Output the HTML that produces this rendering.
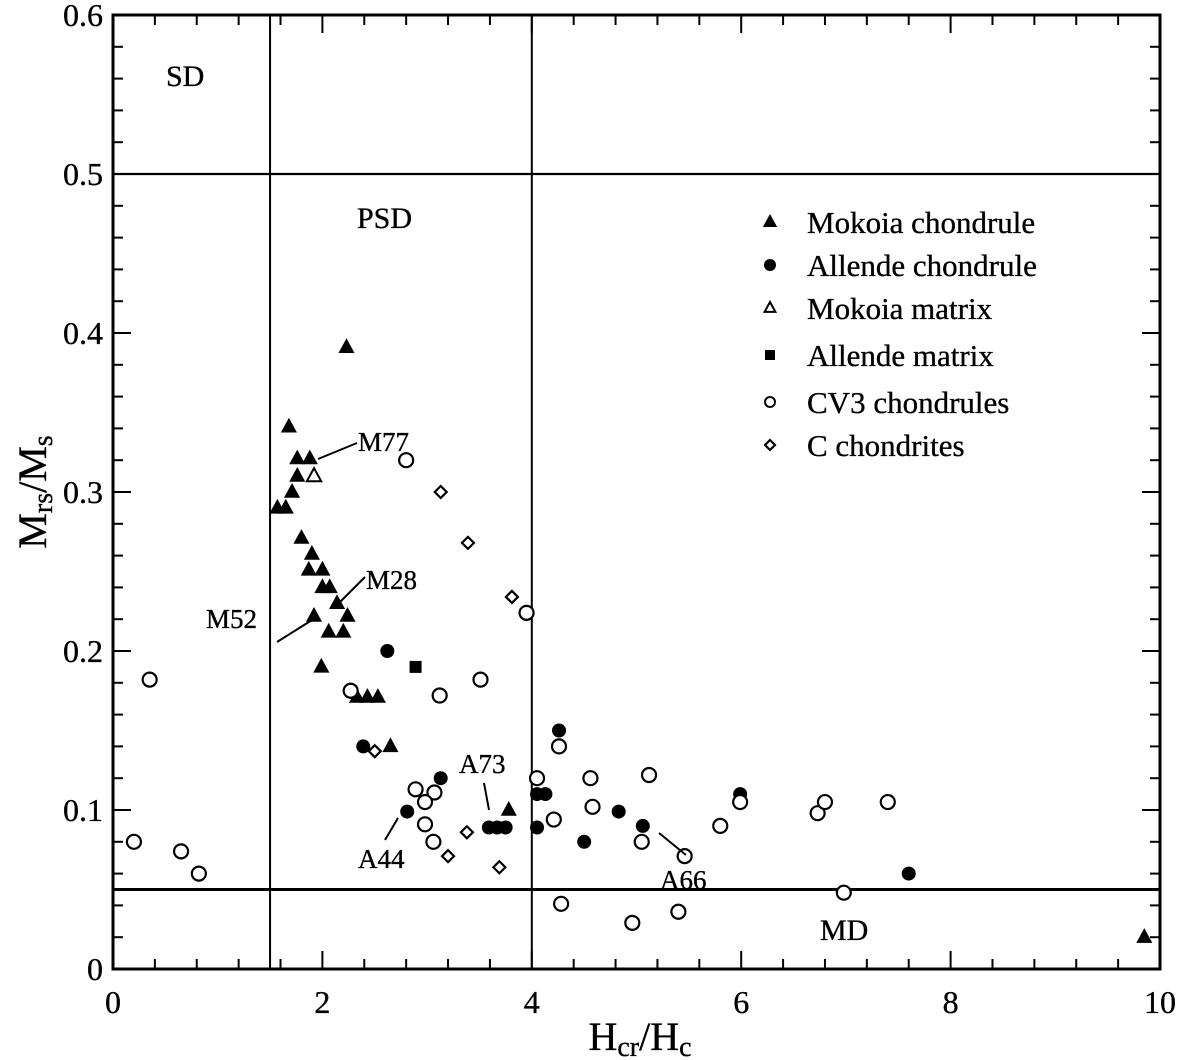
<!DOCTYPE html>
<html><head><meta charset="utf-8">
<style>
html,body{margin:0;padding:0;background:#fff;}
svg{display:block;font-family:"Liberation Serif",serif;}
text{stroke:#000;stroke-width:0.35;}
</style></head>
<body>
<svg id="chart" width="1181" height="1060" viewBox="0 0 1181 1060">
<g id="grid"></g>
<g id="marks"></g>
<g id="ann"></g>
</svg>
<script>
const xTicks=[0,2,4,6,8,10];
const yTicks=[0,0.1,0.2,0.3,0.4,0.5,0.6];
const mokoiaChondX=[2.23,1.68,1.76,1.88,1.76,1.71,1.57,1.65,1.8,1.9,1.87,2.0,2.0,2.07,2.14,1.92,2.24,2.06,2.2,1.99,2.33,2.43,2.53,2.65,3.78,9.85];
const mokoiaChondY=[0.391,0.341,0.321,0.321,0.310,0.300,0.290,0.290,0.271,0.261,0.251,0.251,0.240,0.240,0.230,0.222,0.222,0.212,0.212,0.190,0.171,0.171,0.171,0.140,0.100,0.020];
const allendeChondX=[2.62,2.39,3.13,2.81,3.59,3.67,3.75,4.05,4.13,4.05,4.26,4.83,4.5,5.06,5.99,7.6];
const allendeChondY=[0.200,0.140,0.120,0.099,0.089,0.089,0.089,0.110,0.110,0.089,0.150,0.099,0.080,0.090,0.110,0.060];
const mokoiaMatX=[1.92];
const mokoiaMatY=[0.310];
const allendeMatX=[2.89];
const allendeMatY=[0.190];
const cv3X=[0.2,0.35,0.65,0.82,2.8,3.95,3.51,3.12,2.27,2.89,3.07,2.98,2.98,3.06,4.05,4.26,4.21,4.56,4.58,5.12,5.05,5.46,5.8,4.28,4.96,5.4,5.99,6.73,6.8,7.4,6.98];
const cv3Y=[0.080,0.182,0.074,0.060,0.320,0.224,0.182,0.172,0.175,0.113,0.111,0.105,0.091,0.080,0.120,0.140,0.094,0.120,0.102,0.122,0.080,0.071,0.090,0.041,0.029,0.036,0.105,0.098,0.105,0.105,0.048];
const cChonX=[3.13,3.39,3.81,2.5,3.38,3.2,3.69];
const cChonY=[0.300,0.268,0.234,0.137,0.086,0.071,0.064];

const L=113,R=1160,T=15,B=969;
const sx=v=>L+(v-0)/(10-0)*(R-L);
const sy=v=>B-(v-0)/(0.6-0)*(B-T);
const NS='http://www.w3.org/2000/svg';
function mk(parent,tag,attrs){const e=document.createElementNS(NS,tag);for(const k in attrs)e.setAttribute(k,attrs[k]);parent.appendChild(e);return e;}
const grid=document.getElementById('grid'),marks=document.getElementById('marks'),ann=document.getElementById('ann');

let fr=mk(grid,'rect',{x:L,y:T,width:R-L,height:B-T,fill:'none',stroke:'#000','stroke-width':3});


for(let i=0;i<=25;i++){const v=i*0.4;const major=Math.abs(v/2-Math.round(v/2))<1e-6;const len=major?18:10;
 mk(grid,'line',{x1:sx(v),x2:sx(v),y1:B,y2:B-len,stroke:'#000','stroke-width':2});
 mk(grid,'line',{x1:sx(v),x2:sx(v),y1:T,y2:T+len,stroke:'#000','stroke-width':2});}
for(let i=0;i<=30;i++){const v=i*0.02;const major=i%5===0;const len=major?18:10;
 mk(grid,'line',{x1:L,x2:L+len,y1:sy(v),y2:sy(v),stroke:'#000','stroke-width':2});
 mk(grid,'line',{x1:R,x2:R-len,y1:sy(v),y2:sy(v),stroke:'#000','stroke-width':2});}
xTicks.forEach(v=>{const t=mk(grid,'text',{x:sx(v),y:1013,'font-size':32,'text-anchor':'middle'});t.textContent=String(v);
 
 });
yTicks.forEach(v=>{const t=mk(grid,'text',{x:L-10,y:sy(v)+11,'font-size':32,'text-anchor':'end'});t.textContent=v===0?'0':v.toFixed(1);
 
 });
let l1=mk(grid,'line',{x1:sx(1.5),x2:sx(1.5),y1:T,y2:B,stroke:'#000','stroke-width':2});


let l2=mk(grid,'line',{x1:sx(4),x2:sx(4),y1:T,y2:B,stroke:'#000','stroke-width':2});


let l3=mk(grid,'line',{x1:L,x2:R,y1:sy(0.5),y2:sy(0.5),stroke:'#000','stroke-width':2.2});


let l4=mk(grid,'line',{x1:L,x2:R,y1:sy(0.05),y2:sy(0.05),stroke:'#000','stroke-width':3});



function tri(p,x,y,filled,s){return mk(p,'polygon',{points:`${x},${y-s} ${x-s*0.9},${y+s*0.65} ${x+s*0.9},${y+s*0.65}`,fill:filled?'#000':'#fff',stroke:'#000','stroke-width':filled?1:2});}
function dia(p,x,y,s){return mk(p,'polygon',{points:`${x},${y-s} ${x+s},${y} ${x},${y+s} ${x-s},${y}`,fill:'#fff',stroke:'#000','stroke-width':2.2});}
mokoiaChondX.forEach((v,i)=>{const e=tri(marks,sx(v),sy(mokoiaChondY[i]),true,8);
 
 });
allendeChondX.forEach((v,i)=>{const e=mk(marks,'circle',{cx:sx(v),cy:sy(allendeChondY[i]),r:7,fill:'#000'});
 
 });
mokoiaMatX.forEach((v,i)=>{const e=tri(marks,sx(v),sy(mokoiaMatY[i]),false,8);
 
 });
allendeMatX.forEach((v,i)=>{const e=mk(marks,'rect',{x:sx(v)-6,y:sy(allendeMatY[i])-6,width:12,height:12,fill:'#000'});
 
 });
cv3X.forEach((v,i)=>{const e=mk(marks,'circle',{cx:sx(v),cy:sy(cv3Y[i]),r:7,fill:'#fff',stroke:'#000','stroke-width':2.2});
 
 });
cChonX.forEach((v,i)=>{const e=dia(marks,sx(v),sy(cChonY[i]),6);
 
 });

function txt(x,y,s,size,name){const t=mk(ann,'text',{x:x,y:y,'font-size':size});t.textContent=s;
 
 return t;}
function ln(x1,y1,x2,y2){mk(ann,'line',{x1,y1,x2,y2,stroke:'#000','stroke-width':2});}
txt(166,86,'SD',30,'sd-region-label');
txt(357,228,'PSD',30,'psd-region-label');
txt(820,940,'MD',30,'md-region-label');
txt(358,451,'M77',27,'m77-label');ln(318,459,357,443);
txt(366,589,'M28',27,'m28-label');ln(340,602,365,577);
txt(206,628,'M52',27,'m52-label');ln(277,642,312,620);
txt(358,868,'A44',27,'a44-label');ln(385,840,398,818);
txt(459,773,'A73',27,'a73-label');ln(484,783,489,810);
txt(660,889,'A66',27,'a66-label');ln(659,833,686,855);

const legY=[222,265,308,355,402,445];
const legT=['Mokoia chondrule','Allende chondrule','Mokoia matrix','Allende matrix','CV3 chondrules','C chondrites'];
const lx=770;
tri(ann,lx,legY[0],true,7);
mk(ann,'circle',{cx:lx,cy:legY[1],r:6,fill:'#000'});
tri(ann,lx,legY[2],false,6);
mk(ann,'rect',{x:lx-5,y:legY[3]-5,width:10,height:10,fill:'#000'});
mk(ann,'circle',{cx:lx,cy:legY[4],r:5,fill:'#fff',stroke:'#000','stroke-width':2});
dia(ann,lx,legY[5],5);
legT.forEach((s,i)=>{txt(807,legY[i]+11,s,31,'legend-entry');});

const xt=mk(ann,'text',{x:640,y:1050,'font-size':40,'text-anchor':'middle'});
xt.innerHTML='H<tspan font-size="28" dy="6">cr</tspan><tspan dy="-6">/H</tspan><tspan font-size="28" dy="6">c</tspan>';


const yt=mk(ann,'text',{x:0,y:0,'font-size':40,'text-anchor':'middle',transform:'translate(46,492) rotate(-90)'});
yt.innerHTML='M<tspan font-size="28" dy="6">rs</tspan><tspan dy="-6">/M</tspan><tspan font-size="28" dy="6">s</tspan>';


</script>
</body></html>
